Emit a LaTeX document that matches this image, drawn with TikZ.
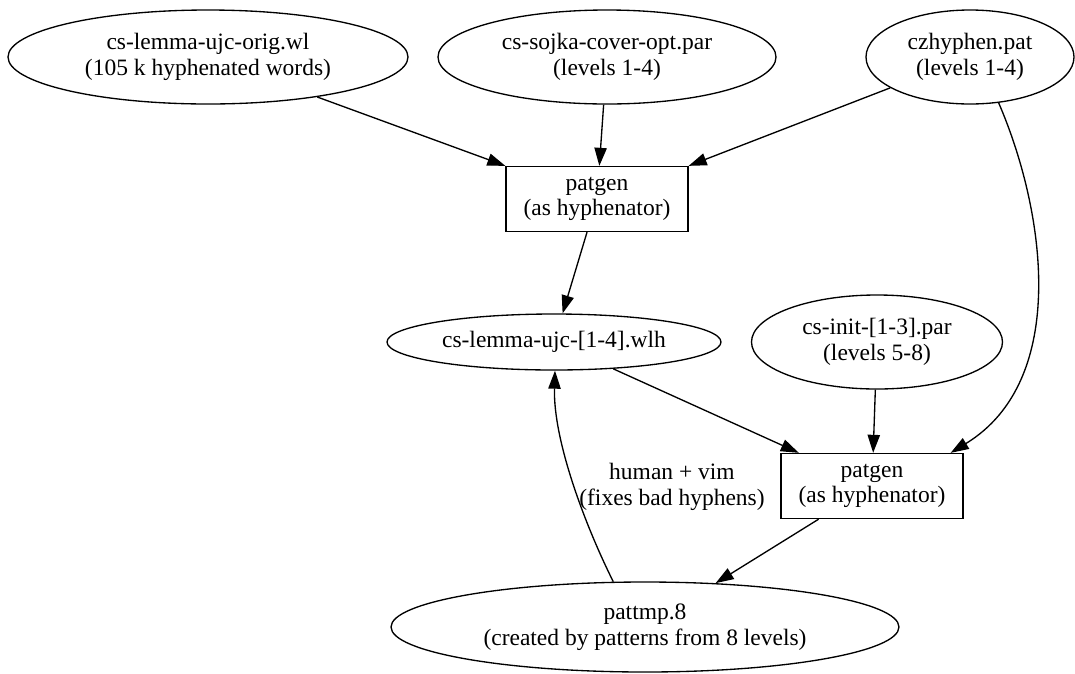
\documentclass[tikz,border=0pt]{standalone}
\usepackage{fontspec}
\setmainfont{Liberation Serif}
\usetikzlibrary{arrows.meta,shapes.geometric,calc}

\begin{document}
\begin{tikzpicture}[x=0.6pt, y=0.6pt,
    font=\fontsize{14.1}{15.4}\selectfont,
    datafile/.style={draw, ellipse, inner sep=0pt, align=center, line width=0.8pt},
    prog/.style={draw, rectangle, inner sep=0pt, align=center,
      minimum width=109.2pt, minimum height=39pt, line width=0.8pt},
    flow/.style={-{Triangle[length=10.8pt, width=7.4pt]}, line width=0.8pt}]
  \useasboundingbox (0,0) rectangle (1075,-673);
  % inputs
  \node[datafile, minimum width=240pt, minimum height=56.4pt] (orig) at (208,-57)
    {cs-lemma-ujc-orig.wl\\(105 k hyphenated words)};
  \node[datafile, minimum width=202.8pt, minimum height=56.4pt] (sojka) at (607,-57)
    {cs-sojka-cover-opt.par\\(levels 1-4)};
  \node[datafile, minimum width=124.8pt, minimum height=56.4pt] (czhyph) at (970,-57)
    {czhyphen.pat\\(levels 1-4)};
  % first pass
  \node[prog] (pg1) at (597,-199) {patgen\\(as hyphenator)};
  \node[datafile, minimum width=200.4pt, minimum height=33.6pt] (wlh) at (554,-342)
    {cs-lemma-ujc-[1-4].wlh};
  \node[datafile, minimum width=150.6pt, minimum height=56.4pt] (init) at (877,-342)
    {cs-init-[1-3].par\\(levels 5-8)};
  % second pass
  \node[prog] (pg2) at (872,-486) {patgen\\(as hyphenator)};
  \node[datafile, minimum width=304.8pt, minimum height=54pt] (pattmp) at (645,-627)
    {pattmp.8\\(created by patterns from 8 levels)};
  \node[align=center, inner sep=0pt] (fix) at (672,-487) {human + vim\\(fixes bad hyphens)};

  \draw[flow] (orig) -- (pg1.north west);
  \draw[flow] (sojka) -- (pg1);
  \draw[flow] (czhyph) -- (pg1.north east);
  \draw[flow] (pg1) -- (wlh);
  \draw[flow] (wlh) -- (pg2);
  \draw[flow] (init) -- (pg2);
  \draw[flow] (czhyph.-58) .. controls (1045,-210) and (1070,-380) .. ($(pg2.north east)+(-13,0)$);
  \draw[flow] (pg2) -- (pattmp);
  \draw[flow] (pattmp.125) .. controls (585,-525) and (553,-440) .. (wlh.-88);
\end{tikzpicture}
\end{document}
